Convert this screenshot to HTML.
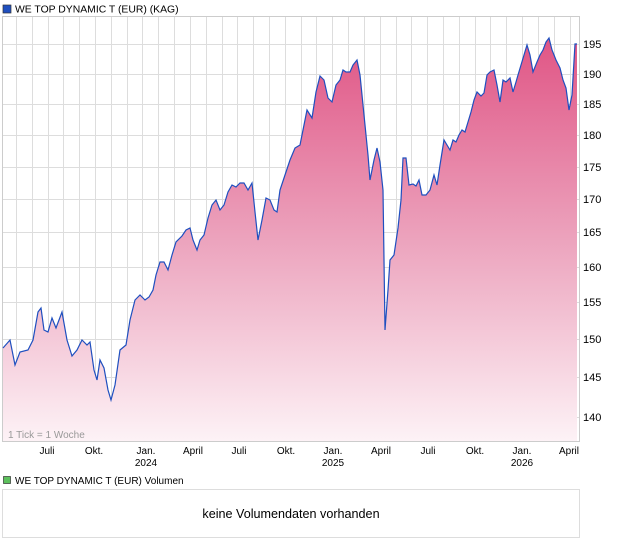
<!DOCTYPE html>
<html><head><meta charset="utf-8"><style>
body{margin:0;background:#fff;font-family:"Liberation Sans",sans-serif;}
</style></head><body>
<svg width="620" height="546" viewBox="0 0 620 546" xmlns="http://www.w3.org/2000/svg" font-family="Liberation Sans, sans-serif">
<defs>
<linearGradient id="g" x1="0" y1="0" x2="0" y2="1">
<stop offset="0" stop-color="#e05585"/>
<stop offset="0.5" stop-color="#eca3bd"/>
<stop offset="1" stop-color="#fdf2f6"/>
</linearGradient>
</defs>
<rect x="3" y="5" width="8" height="8" fill="#1f4fbf" stroke="#333" stroke-width="0.7"/>
<text x="15" y="12.5" font-size="10.4" fill="#000">WE TOP DYNAMIC T (EUR) (KAG)</text>
<rect x="2.5" y="16.5" width="577" height="425" fill="#fff" stroke="#ccc"/>
<g stroke="#ddd" stroke-width="1">
<line x1="3" x2="579" y1="44.5" y2="44.5"/><line x1="3" x2="579" y1="74.5" y2="74.5"/>
<line x1="3" x2="579" y1="104.5" y2="104.5"/><line x1="3" x2="579" y1="135.5" y2="135.5"/>
<line x1="3" x2="579" y1="167.5" y2="167.5"/><line x1="3" x2="579" y1="199.5" y2="199.5"/>
<line x1="3" x2="579" y1="232.5" y2="232.5"/><line x1="3" x2="579" y1="267.5" y2="267.5"/>
<line x1="3" x2="579" y1="302.5" y2="302.5"/><line x1="3" x2="579" y1="339.5" y2="339.5"/>
<line x1="3" x2="579" y1="377.5" y2="377.5"/><line x1="3" x2="579" y1="417.5" y2="417.5"/>
</g>
<g stroke="#ddd" stroke-width="1" id="vg"></g>
<polygon fill="url(#g)" points="3,441 3,348 10,340 15,365 20,352 28,350 33,340 38,312 41,308 44,330 48,332 52,318 56,328 62,312 67,340 72,356 77,350 82,340 87,345 90,342 94,370 97,380 100,360 104,368 108,390 111,400 115,385 120,350 126,345 130,320 135,300 140,295 145,300 149,297 153,290 156,275 160,262 164,262 168,270 172,255 176,242 182,236 186,230 190,228 193,240 197,250 200,240 204,235 208,218 212,205 216,200 220,210 224,205 228,192 232,185 236,187 240,183 244,183 248,190 252,183 255,212 258,240 262,220 266,198 270,200 274,210 277,212 280,190 285,175 290,160 295,148 300,145 303,130 307,110 312,118 316,92 320,76 324,80 328,98 332,102 336,85 340,80 343,70 346,72 350,72 353,65 357,60 360,75 364,115 368,155 370,180 374,160 377,148 380,162 383,190 385,330 388,290 390,260 394,255 398,228 401,200 403,158 406,158 409,185 413,184 416,186 419,180 422,195 426,195 430,190 434,175 437,185 440,165 444,140 447,145 450,150 453,140 456,142 459,135 462,130 465,132 468,122 471,112 474,100 477,92 481,96 484,93 487,75 490,72 494,70 497,85 500,102 503,80 506,82 510,78 513,92 516,82 518,75 521,65 524,55 527,45 530,55 533,72 537,62 540,55 543,50 546,42 549,38 552,50 556,60 560,68 563,80 566,88 569,110 572,95 575,44 577,44 577,441"/>
<polyline fill="none" stroke="#1f4fbf" stroke-width="1.2" points="3,348 10,340 15,365 20,352 28,350 33,340 38,312 41,308 44,330 48,332 52,318 56,328 62,312 67,340 72,356 77,350 82,340 87,345 90,342 94,370 97,380 100,360 104,368 108,390 111,400 115,385 120,350 126,345 130,320 135,300 140,295 145,300 149,297 153,290 156,275 160,262 164,262 168,270 172,255 176,242 182,236 186,230 190,228 193,240 197,250 200,240 204,235 208,218 212,205 216,200 220,210 224,205 228,192 232,185 236,187 240,183 244,183 248,190 252,183 255,212 258,240 262,220 266,198 270,200 274,210 277,212 280,190 285,175 290,160 295,148 300,145 303,130 307,110 312,118 316,92 320,76 324,80 328,98 332,102 336,85 340,80 343,70 346,72 350,72 353,65 357,60 360,75 364,115 368,155 370,180 374,160 377,148 380,162 383,190 385,330 388,290 390,260 394,255 398,228 401,200 403,158 406,158 409,185 413,184 416,186 419,180 422,195 426,195 430,190 434,175 437,185 440,165 444,140 447,145 450,150 453,140 456,142 459,135 462,130 465,132 468,122 471,112 474,100 477,92 481,96 484,93 487,75 490,72 494,70 497,85 500,102 503,80 506,82 510,78 513,92 516,82 518,75 521,65 524,55 527,45 530,55 533,72 537,62 540,55 543,50 546,42 549,38 552,50 556,60 560,68 563,80 566,88 569,110 572,95 575,44 577,44"/>
<text x="8" y="438" font-size="10" fill="#999">1 Tick = 1 Woche</text>
<g font-size="11" fill="#000">
<text x="583" y="48">195</text><text x="583" y="78">190</text><text x="583" y="108">185</text>
<text x="583" y="139">180</text><text x="583" y="171">175</text><text x="583" y="203">170</text>
<text x="583" y="236">165</text><text x="583" y="271">160</text><text x="583" y="306">155</text>
<text x="583" y="343">150</text><text x="583" y="381">145</text><text x="583" y="421">140</text>
</g>
<g font-size="10" fill="#000" text-anchor="middle">
<text x="47" y="454">Juli</text><text x="94" y="454">Okt.</text><text x="146" y="454">Jan.</text><text x="146" y="466">2024</text>
<text x="193" y="454">April</text><text x="239" y="454">Juli</text><text x="286" y="454">Okt.</text>
<text x="333" y="454">Jan.</text><text x="333" y="466">2025</text><text x="381" y="454">April</text>
<text x="428" y="454">Juli</text><text x="475" y="454">Okt.</text><text x="522" y="454">Jan.</text><text x="522" y="466">2026</text>
<text x="569" y="454">April</text>
</g>
<rect x="3.5" y="476.5" width="7" height="7" fill="#5cc05c" stroke="#333" stroke-width="0.7"/>
<text x="15" y="484" font-size="10" fill="#000">WE TOP DYNAMIC T (EUR) Volumen</text>
<rect x="2.5" y="489.5" width="577" height="48" fill="#fff" stroke="#ddd"/>
<text x="291" y="518" font-size="12.6" fill="#000" text-anchor="middle">keine Volumendaten vorhanden</text>
</svg>
<script>
var g=document.getElementById('vg'),s='';
for(var k=-2;k<=33;k++){var x=Math.round(47.5+15.82*k)+0.5;if(x>3&&x<579)s+='<line x1="'+x+'" x2="'+x+'" y1="17" y2="441"/>';}
g.innerHTML=s;
</script>
</body></html>
